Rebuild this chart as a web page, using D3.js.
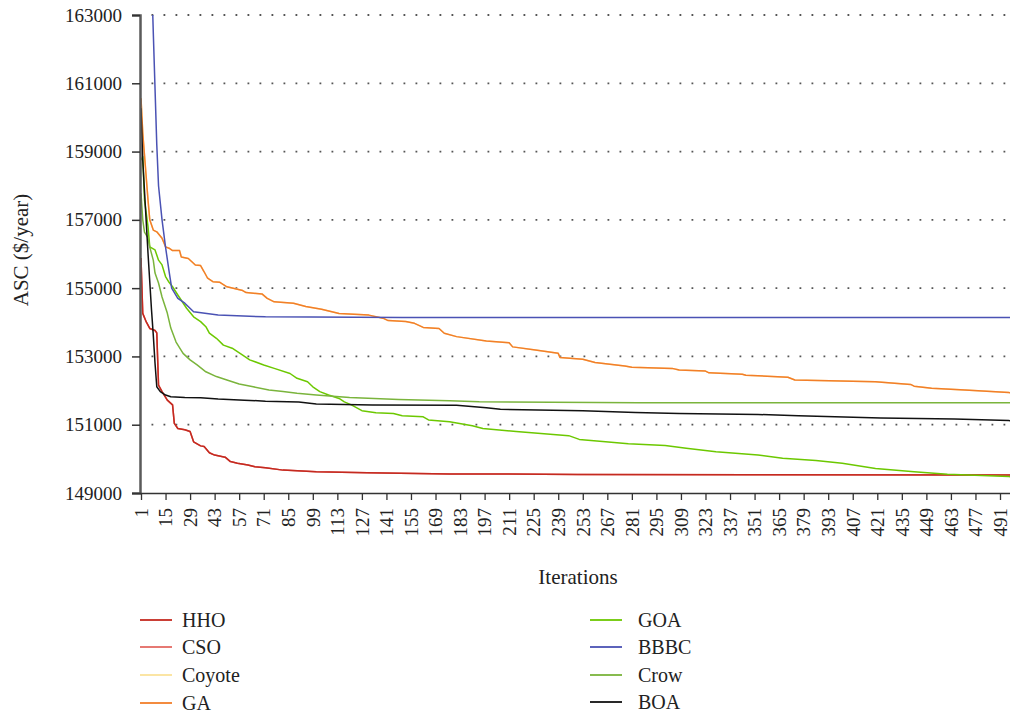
<!DOCTYPE html>
<html>
<head>
<meta charset="utf-8">
<script src="https://cdn.jsdelivr.net/npm/d3@7"></script>
<style>
  html, body { margin: 0; padding: 0; background: #fff; }
  svg { display: block; font-family: "Liberation Serif", "DejaVu Serif", serif; }
</style>
</head>
<body>
<svg id="chart" width="1010" height="716"></svg>
<script>
// Convergence curves: [iteration, ASC ($/year)]
const hho = [
  [1,155880],[2,154260],[4,154010],[6,153820],[9,153760],[10,153690],[11,152160],[13,151970],
  [16,151720],[19,151580],[20,151040],[22,150890],[26,150850],[29,150800],[31,150500],[35,150380],
  [37,150360],[40,150180],[43,150110],[49,150050],[52,149920],[56,149870],[62,149820],[66,149770],
  [72,149740],[82,149670],[101,149620],[130,149590],[177,149560],[250,149545],[350,149535],[500,149525]
];
const cso = [
  [1,155880],[2,154260],[4,154010],[6,153820],[9,153760],[10,153690],[11,152160],[13,151970],
  [16,151720],[19,151580],[20,151040],[22,150890],[26,150850],[29,150800],[31,150500],[35,150380],
  [37,150360],[40,150180],[43,150110],[49,150050],[52,149920],[56,149870],[62,149820],[66,149770],
  [72,149740],[82,149670],[101,149620],[130,149590],[177,149560],[250,149545],[350,149535],[500,149525]
];
const coyote = [
  [1,160560],[2,159540],[5,157580],[6,157000],[8,156700],[10,156650],[13,156460],[15,156210],
  [17,156170],[19,156100],[23,156100],[24,155910],[28,155870],[32,155680],[35,155660],[37,155480],
  [39,155290],[42,155190],[46,155170],[50,155040],[59,154930],[61,154870],[70,154830],[73,154700],
  [77,154600],[88,154560],[95,154460],[104,154380],[114,154260],[131,154210],[139,154120],[142,154050],
  [152,154020],[157,153970],[162,153850],[171,153820],[174,153680],[181,153580],[198,153450],[211,153400],
  [213,153280],[226,153190],[239,153090],[240,152970],[253,152920],[260,152820],[277,152720],[281,152680],
  [304,152650],[308,152600],[323,152570],[325,152520],[344,152480],[346,152450],[370,152390],[374,152310],
  [420,152260],[440,152180],[442,152130],[452,152070],[471,152020],[496,151940],[500,151930]
];
const ga = [
  [1,160560],[2,159540],[5,157580],[6,157000],[8,156700],[10,156650],[13,156460],[15,156210],
  [17,156170],[19,156100],[23,156100],[24,155910],[28,155870],[32,155680],[35,155660],[37,155480],
  [39,155290],[42,155190],[46,155170],[50,155040],[59,154930],[61,154870],[70,154830],[73,154700],
  [77,154600],[88,154560],[95,154460],[104,154380],[114,154260],[131,154210],[139,154120],[142,154050],
  [152,154020],[157,153970],[162,153850],[171,153820],[174,153680],[181,153580],[198,153450],[211,153400],
  [213,153280],[226,153190],[239,153090],[240,152970],[253,152920],[260,152820],[277,152720],[281,152680],
  [304,152650],[308,152600],[323,152570],[325,152520],[344,152480],[346,152450],[370,152390],[374,152310],
  [420,152260],[440,152180],[442,152130],[452,152070],[471,152020],[496,151940],[500,151930]
];
const goa = [
  [1,158750],[2,158850],[3,157580],[4,157190],[5,156800],[6,156210],[9,156120],[11,155820],
  [13,155680],[15,155340],[17,155170],[19,155040],[22,154800],[27,154410],[31,154160],[35,154020],
  [38,153870],[40,153680],[44,153530],[48,153330],[53,153240],[59,153040],[63,152900],[71,152750],
  [77,152650],[86,152500],[90,152360],[96,152260],[99,152110],[103,151970],[108,151870],[114,151770],
  [117,151670],[121,151580],[127,151410],[135,151350],[145,151330],[150,151260],[162,151230],[165,151140],
  [177,151090],[190,150970],[196,150890],[215,150800],[245,150680],[251,150570],[266,150500],[279,150440],
  [300,150390],[312,150310],[329,150210],[353,150110],[367,150020],[386,149950],[401,149870],[420,149720],
  [442,149620],[461,149550],[496,149480],[500,149475]
];
const bbbc = [
  [1,185000],[4,171000],[6,166000],[8,162500],[10,159200],[11,158000],[13,157000],[15,156200],
  [17,155500],[18.5,155000],[22,154700],[26,154560],[31,154310],[45,154210],[72,154160],[150,154140],[500,154140]
];
const crow = [
  [1,157780],[2,157000],[3,156640],[5,156470],[6,156200],[8,155820],[9,155440],[11,155150],
  [13,154740],[16,154270],[18,153830],[21,153420],[25,153090],[29,152900],[33,152750],[38,152550],
  [44,152410],[50,152310],[57,152190],[65,152110],[74,152020],[82,151970],[90,151920],[101,151870],
  [120,151800],[148,151740],[177,151700],[194,151670],[285,151645],[500,151645]
];
const boa = [
  [1,160270],[2,158750],[5,156020],[7,154360],[8,153630],[9,152800],[10,152110],[12,151970],
  [15,151870],[18,151820],[26,151800],[35,151790],[45,151750],[60,151720],[72,151690],[91,151665],
  [101,151610],[133,151580],[181,151570],[198,151500],[206,151450],[253,151410],[283,151360],[308,151330],
  [353,151300],[376,151260],[423,151200],[465,151170],[496,151120],[500,151115]
];

const seriesNames = ["HHO", "CSO", "Coyote", "GA", "GOA", "BBBC", "Crow", "BOA"];
const seriesColors = ["#c42a20", "#e46a64", "#fbe29a", "#f27e2a", "#6cc800", "#4a52b4", "#7ab43c", "#111111"];
const seriesData = [hho, cso, coyote, ga, goa, bbbc, crow, boa];
// bottom-to-top painting order
const drawOrder = ["Coyote", "CSO", "HHO", "GA", "GOA", "BBBC", "Crow", "BOA"];

const yTicks = [149000, 151000, 153000, 155000, 157000, 159000, 161000, 163000];
const xTicks = [1, 15, 29, 43, 57, 71, 85, 99, 113, 127, 141, 155, 169, 183, 197, 211, 225, 239, 253,
  267, 281, 295, 309, 323, 337, 351, 365, 379, 393, 407, 421, 435, 449, 463, 477, 491];

const svg = d3.select("#chart");
const W = 1010;
const plot = { left: 140, top: 15, bottom: 493 };

const x = d3.scaleLinear().domain([1, 491]).range([141, 1000]);
const y = d3.scaleLinear().domain([149000, 163000]).range([plot.bottom, plot.top]);

svg.append("defs").append("clipPath").attr("id", "plotClip")
  .append("rect").attr("x", plot.left).attr("y", plot.top)
  .attr("width", W - plot.left).attr("height", plot.bottom - plot.top);

// dotted horizontal gridlines
svg.append("g").selectAll("line")
  .data(yTicks.filter(d => d > 149000))
  .join("line")
  .attr("x1", 151.5).attr("x2", W)
  .attr("y1", d => y(d)).attr("y2", d => y(d))
  .attr("stroke", "#555").attr("stroke-width", 1.8)
  .attr("stroke-dasharray", "1.8 10.2");

// curves
const line = d3.line().x(d => x(d[0])).y(d => y(d[1]));
const gLines = svg.append("g").attr("clip-path", "url(#plotClip)");
drawOrder.forEach(name => {
  const i = seriesNames.indexOf(name);
  gLines.append("path")
    .datum(seriesData[i])
    .attr("d", line)
    .attr("fill", "none")
    .attr("stroke", seriesColors[i])
    .attr("stroke-width", 1.5)
    .attr("stroke-linejoin", "round");
});

// y axis
const yAxis = svg.append("g").attr("transform", `translate(${plot.left},0)`)
  .call(d3.axisLeft(y).tickValues(yTicks).tickFormat(d3.format("d")).tickSize(8).tickPadding(10));
yAxis.select(".domain").attr("stroke", "#5a5a5a").attr("stroke-width", 2.5);
yAxis.selectAll(".tick line").attr("stroke", "#333").attr("stroke-width", 1.5);
yAxis.selectAll(".tick text").attr("font-size", 19).attr("fill", "#222")
  .attr("font-family", "Liberation Serif");

// x axis
const xAxis = svg.append("g").attr("transform", `translate(0,${plot.bottom})`)
  .call(d3.axisBottom(x).tickValues(xTicks).tickSize(7).tickSizeOuter(0));
xAxis.select(".domain").attr("d", `M${plot.left},0.5H${W}`).attr("stroke", "#333").attr("stroke-width", 1.5);
xAxis.selectAll(".tick line").attr("stroke", "#333").attr("stroke-width", 1.3);
xAxis.selectAll(".tick text")
  .attr("font-size", 19).attr("fill", "#222").attr("font-family", "Liberation Serif")
  .attr("text-anchor", "end")
  .attr("transform", "translate(0,15) rotate(-90)")
  .attr("x", 0).attr("y", 0).attr("dy", "0.33em");

// axis titles
svg.append("text")
  .attr("transform", "translate(28,250) rotate(-90)")
  .attr("text-anchor", "middle")
  .attr("font-size", 21).attr("fill", "#222")
  .text("ASC ($/year)");
svg.append("text")
  .attr("x", 578).attr("y", 584)
  .attr("text-anchor", "middle")
  .attr("font-size", 21).attr("fill", "#222")
  .text("Iterations");

// legend: two columns of four
const legendRowsY = [[620, 647, 675, 703], [620, 647, 675, 702]];
const legendCols = [{ lx: 140, tx: 182 }, { lx: 590, tx: 638 }];
seriesNames.forEach((name, i) => {
  const col = Math.floor(i / 4), row = i % 4;
  const cy = legendRowsY[col][row];
  const c = legendCols[col];
  svg.append("line")
    .attr("x1", c.lx).attr("x2", c.lx + 32)
    .attr("y1", cy).attr("y2", cy)
    .attr("stroke", seriesColors[i]).attr("stroke-width", 1.8);
  svg.append("text")
    .attr("x", c.tx).attr("y", cy).attr("dy", "0.35em")
    .attr("font-size", 20).attr("fill", "#222")
    .text(name);
});
</script>
</body>
</html>
